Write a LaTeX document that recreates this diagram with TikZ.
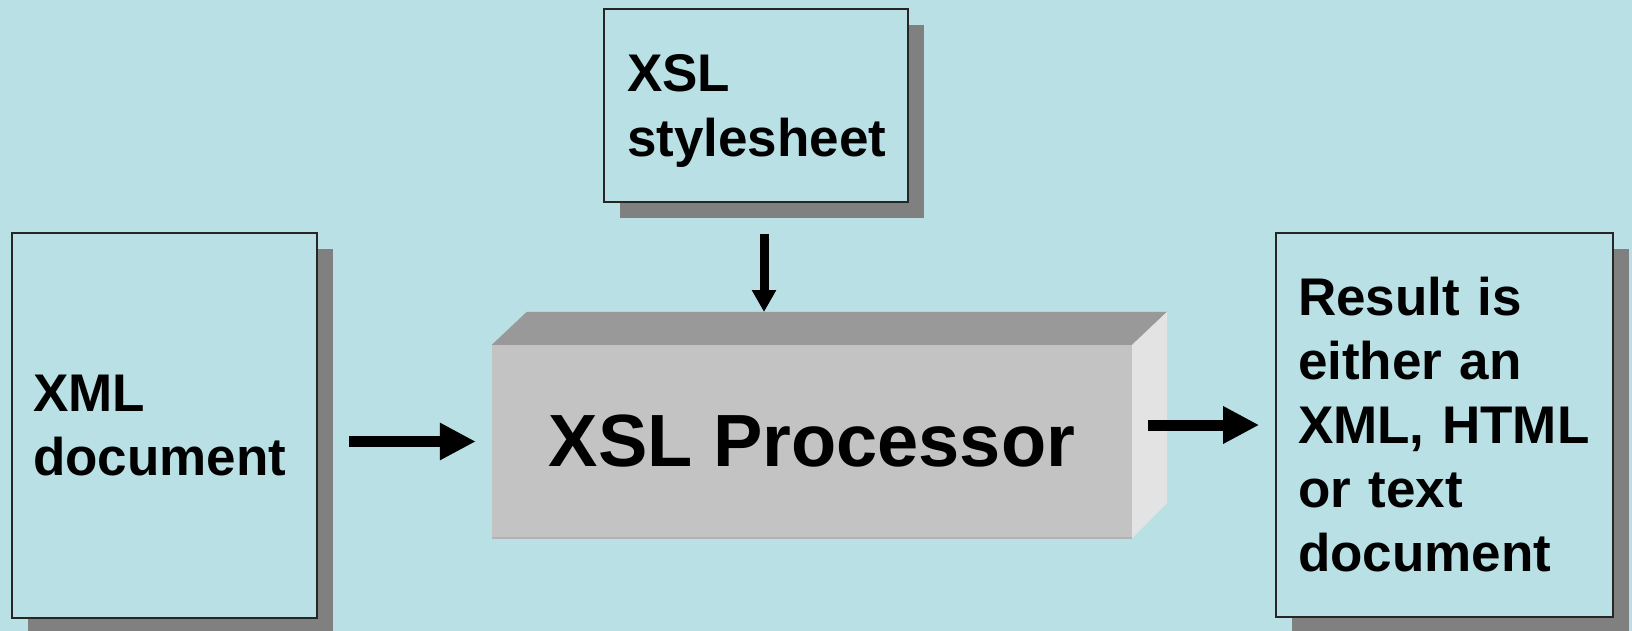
\documentclass[tikz,border=0pt]{standalone}
\usepackage{fontspec}
\setmainfont{Liberation Sans}
\usetikzlibrary{arrows.meta}
\usetikzlibrary{shadows}
\definecolor{slidebg}{HTML}{B9E0E4}
\definecolor{shadowgray}{HTML}{808080}
\definecolor{facefront}{HTML}{C3C3C3}
\definecolor{facetop}{HTML}{999999}
\definecolor{faceside}{HTML}{E3E3E3}

\begin{document}
\begin{tikzpicture}[x=1pt, y=-1pt,
    doc/.style={draw=black!85, line width=1.6pt, rectangle, fill=slidebg, align=left,
      inner ysep=0pt, font=\fontsize{53}{64}\selectfont\bfseries,
      drop shadow={shadow xshift=16pt, shadow yshift=-16pt, fill=shadowgray, opacity=1}},
    bigarrow/.style={line width=11pt, -{Triangle[length=36pt,width=35pt]}},
    smallarrow/.style={line width=9pt, -{Triangle[length=22pt,width=23pt]}}]
            \useasboundingbox (0,0) rectangle (1632,631);
            \fill[slidebg] (0,0) rectangle (1632,631);

            \node[doc, minimum width=305pt, minimum height=385pt, inner xsep=21pt, text width=263pt] (xml) at (164.5,425.5) {XML\\document};
            \node[doc, minimum width=304pt, minimum height=193pt, inner xsep=23pt, text width=258pt, text depth=65pt, font=\fontsize{53}{65}\selectfont\bfseries] (sheet) at (756,105.5) {XSL\\stylesheet};
            \node[doc, minimum width=337pt, minimum height=384pt, inner xsep=22pt, text width=293pt] (result) at (1444.5,425) {Result is\\either an\\XML, HTML\\or text\\document};

            \node[rectangle, fill=facefront, minimum width=640pt, minimum height=193pt, inner sep=0pt, font=\fontsize{74}{80}\selectfont\bfseries] (proc) at (812,441.5) {XSL Processor};
            \fill[facetop] (proc.north west) -- ++(35,-33) -- ++(640,0) -- (proc.north east) -- cycle;
            \fill[faceside] (proc.north east) -- ++(35,-33) -- ++(0,191) -- (proc.south east) -- cycle;
            \draw[black!30, line width=2pt] (proc.south west) -- (proc.south east);
            \coordinate (tip) at (764,312);

            \draw[bigarrow, shorten <=31pt, shorten >=16pt] (xml.east |- proc.west) -- (proc.west);
            \draw[bigarrow, shorten <=16pt, shorten >=16pt] (proc.east |- result.west) -- (result.west);
            \draw[smallarrow, shorten <=31pt] (sheet.south -| tip) -- (tip);
        \end{tikzpicture}
\end{document}
